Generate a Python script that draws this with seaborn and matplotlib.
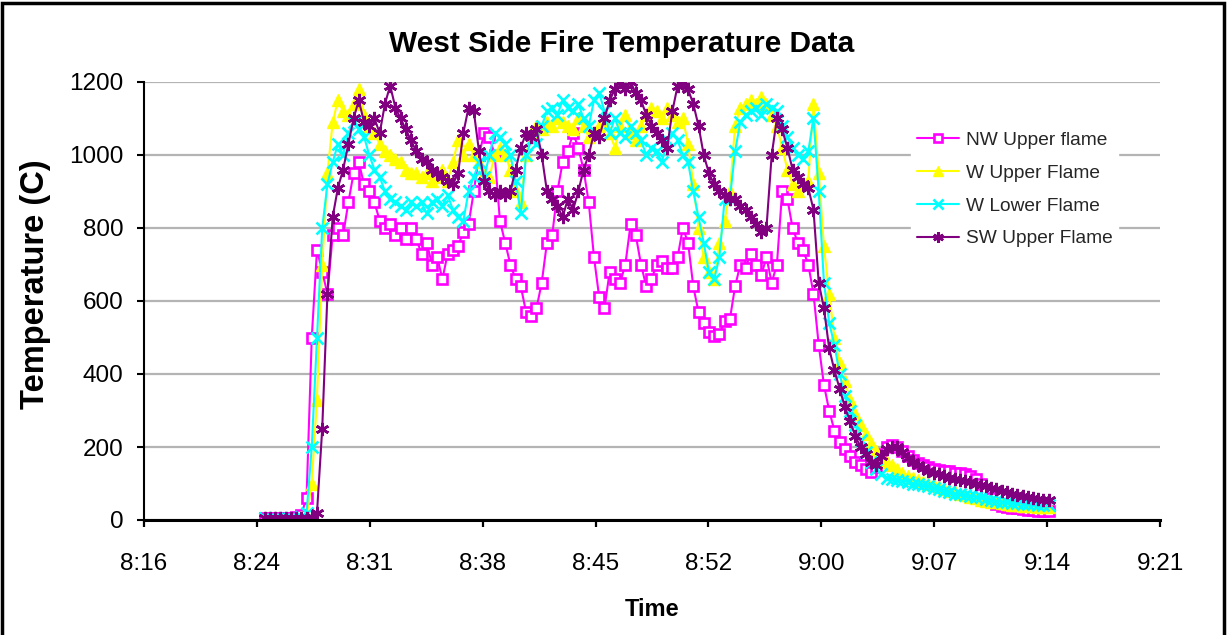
import numpy as np
import pandas as pd
import matplotlib
matplotlib.use("Agg")
import matplotlib.pyplot as plt
import seaborn as sns
from matplotlib.patches import Rectangle

# ---------------- data ----------------
start_minute = 504.5          # 8:24:30 expressed in minutes after midnight
sample_step = 1.0 / 3.0       # one reading every 20 s

nw_upper = [5, 6, 5, 6, 5, 6, 7, 15,
            60, 500, 740, 680, 620, 780, 800, 780, 870, 950, 980, 920,
            900, 870, 820, 800, 810, 780, 800, 770, 800, 770,
            730, 760, 700, 720, 660, 730, 740, 750, 790, 810,
            900, 1000, 1060, 1050, 1000, 820, 760, 700, 660, 640,
            570, 560, 580, 650, 760, 780, 900, 980, 1010, 1060,
            1020, 960, 870, 720, 610, 580, 680, 660, 650, 700,
            810, 780, 700, 640, 660, 700, 710, 690, 690, 720,
            800, 760, 640, 570, 540, 515, 505, 510, 545, 550,
            640, 700, 690, 730, 700, 670, 720, 650, 700, 900,
            880, 800, 760, 740, 700, 620, 480, 370, 300, 245,
            215, 195, 175, 160, 150, 140, 132, 145, 180, 200,
            205, 200, 190, 175, 165, 155, 150, 145, 140, 137,
            135, 133, 130, 128, 125, 120, 112, 100, 80, 60,
            45, 38, 35, 33, 32, 30, 28, 27, 26, 25, 25]

w_upper = [5, 5, 6, 5, 6, 5, 6, 8,
           10, 100, 330, 700, 950, 1090, 1150, 1120, 1110, 1140, 1180, 1110,
           1080, 1060, 1030, 1010, 1000, 990, 980, 960, 950, 950,
           940, 950, 930, 940, 960, 930, 980, 1040, 1000, 1030,
           1000, 980, 950, 940, 1000, 1020, 1000, 960, 900, 870,
           1000, 1060, 1080, 1070, 1090, 1080, 1100, 1090, 1080, 1070,
           1100, 1080, 1050, 1060, 1080, 1090, 1060, 1020, 1080, 1110,
           1060, 1040, 1080, 1110, 1130, 1120, 1100, 1130, 1110, 1090,
           1100, 1030, 920, 800, 720, 680, 660, 760, 820, 900,
           1080, 1130, 1140, 1150, 1140, 1160, 1140, 1110, 1080, 1020,
           960, 920, 900, 920, 930, 1140, 950, 750, 620, 500,
           430, 380, 330, 290, 260, 235, 210, 190, 170, 160,
           150, 140, 130, 120, 115, 110, 105, 100, 95, 90,
           85, 80, 76, 72, 68, 64, 60, 56, 52, 50,
           48, 46, 44, 42, 40, 39, 38, 37, 36, 35, 35]

w_lower = [5, 6, 5, 5, 6, 5, 6, 8,
           20, 200, 500, 800, 920, 980, 1030, 1000, 1060, 1090, 1070, 1050,
           1000, 960, 940, 900, 880, 870, 860, 850, 870, 860,
           870, 840, 870, 880, 860, 890, 850, 830, 820, 900,
           940, 980, 940, 1000, 1060, 1050, 1030, 1000, 930, 840,
           1000, 1040, 1030, 1080, 1120, 1130, 1110, 1150, 1130, 1120,
           1140, 1100, 1080, 1150, 1170, 1120, 1060, 1100, 1060, 1050,
           1080, 1060, 1040, 1000, 1020, 1010, 980, 1040, 1060, 1040,
           1000, 980, 900, 830, 760, 680, 660, 720, 880, 880,
           1010, 1090, 1110, 1120, 1130, 1110, 1140, 1130, 1120, 1080,
           1050, 1020, 1000, 990, 1010, 1100, 900, 650, 540, 480,
           400, 340, 300, 260, 220, 185, 160, 140, 125, 115,
           112, 110, 108, 105, 100, 98, 95, 92, 88, 85,
           80, 76, 72, 70, 68, 66, 64, 62, 58, 55,
           52, 50, 48, 47, 46, 45, 44, 43, 42, 41, 40]

sw_upper = [5, 5, 6, 5, 5, 6, 5, 6, 6,
            8, 20, 250, 620, 830, 910, 960, 1030, 1100, 1150, 1090,
            1080, 1100, 1060, 1140, 1190, 1130, 1100, 1070, 1040, 1010,
            990, 980, 960, 950, 940, 930, 920, 950, 1060, 1130,
            1120, 1010, 930, 900, 890, 900, 890, 900, 960, 1020,
            1060, 1050, 1070, 1000, 900, 880, 860, 830, 880, 850,
            900, 960, 1000, 1060, 1050, 1100, 1150, 1180, 1200, 1180,
            1200, 1170, 1150, 1110, 1080, 1060, 1040, 1020, 1120, 1190,
            1200, 1180, 1140, 1080, 1000, 950, 920, 900, 890, 880,
            880, 860, 850, 830, 810, 790, 800, 1000, 1100, 1070,
            1020, 960, 940, 920, 910, 850, 650, 580, 470, 410,
            360, 310, 270, 230, 200, 180, 160, 150, 175, 195,
            200, 200, 185, 170, 160, 150, 142, 135, 130, 125,
            120, 116, 112, 110, 107, 104, 100, 96, 92, 88,
            84, 80, 76, 72, 69, 66, 63, 60, 58, 56, 55]

series_names = ["NW Upper flame", "W Upper Flame", "W Lower Flame", "SW Upper Flame"]
series_values = [nw_upper, w_upper, w_lower, sw_upper]

x_tick_minutes = [496.8, 504.0, 511.2, 518.4, 525.6, 532.8, 540.0, 547.2, 554.4, 561.6]
x_tick_labels = ["8:16", "8:24", "8:31", "8:38", "8:45", "8:52", "9:00", "9:07", "9:14", "9:21"]
y_ticks = [0, 200, 400, 600, 800, 1000, 1200]

# ---------------- styles ----------------
styles = [
    dict(color="#FF00FF", marker="s", markersize=7.5, markerfacecolor="white",
         markeredgecolor="#FF00FF", markeredgewidth=1.9),
    dict(color="#FFFF00", marker="^", markersize=8.5, markerfacecolor="#FFFF00",
         markeredgecolor="#FFFF00", markeredgewidth=1.0),
    dict(color="#00FFFF", marker="x", markersize=8.5, markerfacecolor="#00FFFF",
         markeredgecolor="#00FFFF", markeredgewidth=1.9),
    dict(color="#800080", marker=(6, 2, 0), markersize=9.5, markerfacecolor="#800080",
         markeredgecolor="#800080", markeredgewidth=1.9),
]

sns.set_theme(style="white")
plt.rcParams['font.family'] = ['Liberation Sans', 'DejaVu Sans']

fig = plt.figure(figsize=(12.27, 6.35), dpi=100)
W, H = 1227, 635
ax = fig.add_axes([144 / W, 1 - 520 / H, (1160 - 144) / W, (520 - 82) / H])

records = []
for name, vals in zip(series_names, series_values):
    t = start_minute + np.arange(len(vals)) * sample_step
    records.append(pd.DataFrame({"time": t, "temp": vals, "series": name}))
df = pd.concat(records, ignore_index=True)

for name, st in zip(series_names, styles):
    sub = df[df["series"] == name]
    sns.lineplot(data=sub, x="time", y="temp", ax=ax, estimator=None, sort=False,
                 linewidth=1.5, label=name, **st)

ax.set_xlim(x_tick_minutes[0], x_tick_minutes[-1])
ax.set_ylim(0, 1200)
ax.set_xticks(x_tick_minutes)
ax.set_xticklabels(x_tick_labels)
ax.set_yticks(y_ticks)
ax.set_yticklabels([str(v) for v in y_ticks])
ax.set_xlabel("")
ax.set_ylabel("")

ax.set_axisbelow(True)
ax.yaxis.grid(True, color="#B4B4B4", linewidth=1.6)
ax.xaxis.grid(False)
for s in ["top", "right"]:
    ax.spines[s].set_visible(False)
ax.spines["left"].set_color("black")
ax.spines["left"].set_linewidth(1.5)
ax.spines["bottom"].set_color("black")
ax.spines["bottom"].set_linewidth(2.2)
ax.tick_params(axis="x", bottom=True, direction="out", length=5, width=1.6,
               colors="black", labelsize=17.5, pad=19)
ax.tick_params(axis="y", left=True, direction="out", length=5, width=1.5,
               colors="black", labelsize=17.5, pad=10)

leg = ax.legend(loc="upper left", bbox_to_anchor=(911 / W, 1 - 126 / H),
                bbox_transform=fig.transFigure, frameon=True, fancybox=False,
                facecolor="white", edgecolor="white", framealpha=1.0,
                fontsize=13.8, handlelength=2.2, handletextpad=0.35,
                labelspacing=0.8, borderpad=0.3, borderaxespad=0,
                markerscale=0.8)

fig.text(622 / W, 1 - 44 / H, "West Side Fire Temperature Data", ha="center", va="center",
         fontsize=21.5, fontweight="bold", color="black")
fig.text(36 / W, 1 - 284 / H, "Temperature (C)", ha="center", va="center", rotation=90,
         fontsize=23.5, fontweight="bold", color="black")
fig.text(652 / W, 1 - 610 / H, "Time", ha="center", va="center",
         fontsize=17, fontweight="bold", color="black")

fig.patches.append(Rectangle((2 / W, -0.02), (W - 5) / W, 1.02 - 3 / H,
                             transform=fig.transFigure, fill=False,
                             edgecolor="black", linewidth=2.5))

fig.savefig("out.png", dpi=100, facecolor="white")
